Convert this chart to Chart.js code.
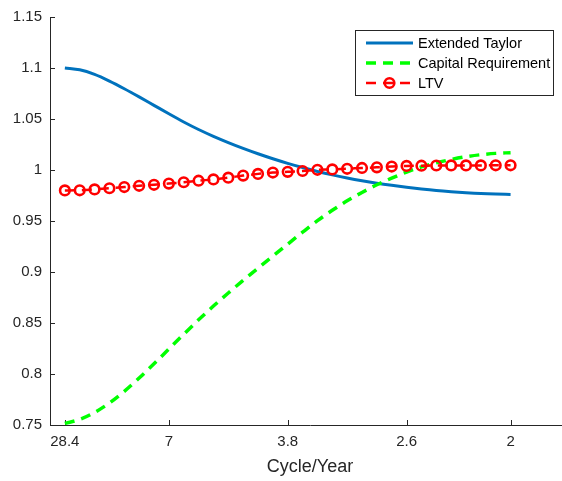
<!DOCTYPE html>
<html>
<head>
<meta charset="utf-8">
<title>Cycle/Year</title>
<script src="https://cdn.jsdelivr.net/npm/chart.js@4.4.1/dist/chart.umd.min.js"></script>
<style>
  html, body { margin: 0; padding: 0; background: #fff; overflow: hidden; }
</style>
</head>
<body>
<canvas id="chart" width="580" height="481"></canvas>
<script>
// frequency grid position of each sample (one sample per LTV marker)
const freqIndex = [0, 1, 2, 3, 4, 5, 6, 7, 8, 9, 10, 11, 12, 13, 14, 15,
                   16, 17, 18, 19, 20, 21, 22, 23, 24, 25, 26, 27, 28, 29, 30];

const extendedTaylor = [1.100, 1.0982, 1.0937, 1.0872, 1.0797, 1.0717, 1.0634, 1.0551,
                        1.0471, 1.0397, 1.0330, 1.0269, 1.0212, 1.0159, 1.0110, 1.0065,
                        1.0024, 0.9986, 0.9952, 0.9922, 0.9895, 0.9871, 0.9850, 0.9831,
                        0.9814, 0.9799, 0.9787, 0.9777, 0.9769, 0.9764, 0.9761];

const capitalRequirement = [0.7515, 0.7555, 0.7623, 0.7716, 0.7830, 0.7960, 0.8100, 0.8245,
                            0.8390, 0.8531, 0.8666, 0.8794, 0.8918, 0.9038, 0.9156, 0.9273,
                            0.9390, 0.9503, 0.9605, 0.9698, 0.9780, 0.9855, 0.9920, 0.9980,
                            1.0030, 1.0070, 1.0103, 1.0130, 1.0150, 1.0163, 1.0170];

const ltv = [0.9800, 0.9801, 0.9810, 0.9821, 0.9833, 0.9845, 0.9855, 0.9867,
             0.9880, 0.9895, 0.9908, 0.9925, 0.9945, 0.9962, 0.9975, 0.9982,
             0.9990, 1.0002, 1.0006, 1.0012, 1.0020, 1.0026, 1.0034, 1.0040,
             1.0042, 1.0044, 1.0045, 1.0045, 1.0045, 1.0046, 1.0046];

// x ticks sit on the frequency grid, labelled with the period they stand for
const xTickPos = [0, 7, 15, 23, 30];
const xTickLabels = ['28.4', '7', '3.8', '2.6', '2'];
const yTicks = [0.75, 0.8, 0.85, 0.9, 0.95, 1, 1.05, 1.1, 1.15];

const axisColor = '#262626';
const fontFamily = '"Liberation Sans", Arial, Helvetica, sans-serif';

const toPoints = (ys) => freqIndex.map((x, i) => ({ x: x, y: ys[i] }));

// MATLAB style ticks pointing into the plot
const innerTicks = {
  id: 'innerTicks',
  beforeDatasetsDraw(chart) {
    const { ctx, chartArea, scales } = chart;
    ctx.save();
    ctx.strokeStyle = axisColor;
    ctx.lineWidth = 1;
    ctx.beginPath();
    xTickPos.forEach(v => {
      const px = Math.round(scales.x.getPixelForValue(v)) + 0.5;
      ctx.moveTo(px, chartArea.bottom);
      ctx.lineTo(px, chartArea.bottom - 5);
    });
    yTicks.forEach(v => {
      const py = Math.round(scales.y.getPixelForValue(v)) + 0.5;
      ctx.moveTo(chartArea.left, py);
      ctx.lineTo(chartArea.left + 5, py);
    });
    ctx.stroke();
    ctx.restore();
  }
};

// boxed legend in the upper right corner
const boxLegend = {
  id: 'boxLegend',
  afterDraw(chart) {
    const ctx = chart.ctx;
    const bx = 355.5, by = 30.5, bw = 198, bh = 65;
    ctx.save();
    ctx.fillStyle = '#fff';
    ctx.fillRect(bx, by, bw, bh);
    ctx.strokeStyle = axisColor;
    ctx.lineWidth = 1;
    ctx.strokeRect(bx, by, bw, bh);

    chart.data.datasets.forEach((ds, i) => {
      const cy = 43 + i * 20;
      ctx.strokeStyle = ds.borderColor;
      ctx.lineWidth = ds.borderWidth;
      ctx.setLineDash(ds.borderDash || []);
      ctx.beginPath();
      ctx.moveTo(366, cy);
      ctx.lineTo(413, cy);
      ctx.stroke();
      if (ds.pointRadius > 0) {
        ctx.setLineDash([]);
        ctx.lineWidth = ds.pointBorderWidth;
        ctx.beginPath();
        ctx.arc(389.5, cy, ds.pointRadius, 0, Math.PI * 2);
        ctx.stroke();
      }
      ctx.setLineDash([]);
      ctx.fillStyle = '#000';
      ctx.font = '14.5px ' + fontFamily;
      ctx.textBaseline = 'middle';
      ctx.textAlign = 'left';
      ctx.fillText(ds.label, 418, cy + 0.5);
    });
    ctx.restore();
  }
};

const chart = new Chart(document.getElementById('chart'), {
  type: 'line',
  data: {
    datasets: [
      {
        label: 'Extended Taylor',
        data: toPoints(extendedTaylor),
        borderColor: '#0072BD',
        borderWidth: 3,
        pointRadius: 0,
        cubicInterpolationMode: 'monotone',
        order: 3
      },
      {
        label: 'Capital Requirement',
        data: toPoints(capitalRequirement),
        borderColor: '#00FF00',
        borderWidth: 3.5,
        borderDash: [10, 7],
        pointRadius: 0,
        cubicInterpolationMode: 'monotone',
        order: 2
      },
      {
        label: 'LTV',
        data: toPoints(ltv),
        borderColor: '#FF0000',
        borderWidth: 2.5,
        borderDash: [10, 7],
        pointRadius: 4.8,
        pointBorderWidth: 2.6,
        pointBorderColor: '#FF0000',
        pointBackgroundColor: 'rgba(0,0,0,0)',
        cubicInterpolationMode: 'monotone',
        order: 1
      }
    ]
  },
  options: {
    responsive: false,
    animation: false,
    layout: { padding: { top: 15, right: 10, left: 0, bottom: 0 } },
    plugins: {
      legend: { display: false },
      tooltip: { enabled: false }
    },
    scales: {
      x: {
        type: 'linear',
        min: -1,
        max: 34,
        afterBuildTicks: s => { s.ticks = xTickPos.map(v => ({ value: v })); },
        afterFit: s => { s.height = 56; },
        grid: { display: false, drawTicks: false },
        border: { display: true, color: axisColor, width: 1 },
        ticks: {
          autoSkip: false,
          maxRotation: 0,
          padding: 8,
          color: axisColor,
          font: { size: 15, family: fontFamily },
          callback: v => xTickLabels[xTickPos.indexOf(v)]
        },
        title: {
          display: true,
          text: 'Cycle/Year',
          color: axisColor,
          font: { size: 18, family: fontFamily },
          padding: { top: 3, bottom: 3 }
        }
      },
      y: {
        min: 0.75,
        max: 1.15,
        afterBuildTicks: s => { s.ticks = yTicks.map(v => ({ value: v })); },
        afterFit: s => { s.width = 50; },
        grid: { display: false, drawTicks: false },
        border: { display: true, color: axisColor, width: 1 },
        ticks: {
          padding: 8,
          color: axisColor,
          font: { size: 15, family: fontFamily },
          callback: v => String(v)
        }
      }
    }
  },
  plugins: [innerTicks, boxLegend]
});
</script>
</body>
</html>
